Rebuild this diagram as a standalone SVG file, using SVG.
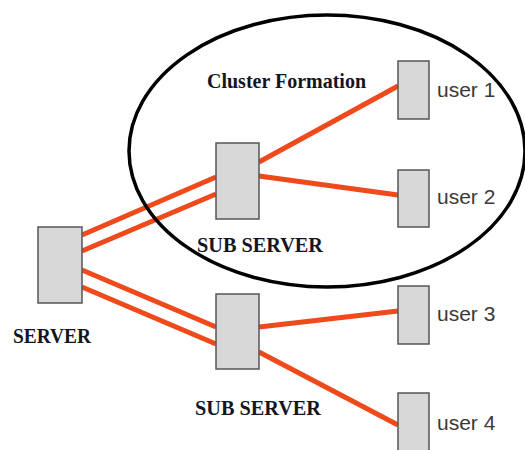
<svg xmlns="http://www.w3.org/2000/svg" width="525" height="450" viewBox="0 0 525 450">
<style>
.box{fill:#d8d8d8;stroke:#555;stroke-width:1.5}
.link{stroke:#ee4a1c;stroke-width:5;stroke-linecap:butt;fill:none}
.lbl{font-family:"Liberation Serif","Times New Roman",serif;font-weight:bold;font-size:21.5px;fill:#15151f}
.usr{font-family:"Liberation Sans",Arial,sans-serif;font-size:21px;fill:#3a3a3a}
</style>
<rect width="525" height="450" fill="#fff"/>
<g id="connectors">
<line class="link" x1="82" y1="235" x2="216" y2="177"/>
<line class="link" x1="82" y1="251" x2="216" y2="194"/>
<line class="link" x1="82" y1="270" x2="216" y2="327"/>
<line class="link" x1="82" y1="287" x2="216" y2="344"/>
<line class="link" x1="259" y1="162" x2="398" y2="86"/>
<line class="link" x1="259" y1="176" x2="398" y2="195"/>
<line class="link" x1="259" y1="327" x2="398" y2="311"/>
<line class="link" x1="259" y1="352" x2="398" y2="425"/>
</g>
<g id="cluster">
<ellipse cx="327" cy="151" rx="198" ry="136" fill="none" stroke="#000" stroke-width="3.5"/>
<text class="lbl" x="207" y="88" textLength="159" lengthAdjust="spacingAndGlyphs">Cluster Formation</text>
</g>
<g id="server">
<rect class="box" x="38" y="227" width="44" height="76"/>
<text class="lbl" x="13" y="343" textLength="78" lengthAdjust="spacingAndGlyphs">SERVER</text>
</g>
<g id="subserver1">
<rect class="box" x="216" y="143" width="43" height="76"/>
<text class="lbl" x="197" y="252" textLength="126" lengthAdjust="spacingAndGlyphs">SUB SERVER</text>
</g>
<g id="subserver2">
<rect class="box" x="216" y="294" width="43" height="75"/>
<text class="lbl" x="195" y="415" textLength="126" lengthAdjust="spacingAndGlyphs">SUB SERVER</text>
</g>
<g id="user1">
<rect class="box" x="398" y="61" width="31" height="58"/>
<text class="usr" x="437" y="97">user 1</text>
</g>
<g id="user2">
<rect class="box" x="398" y="170" width="31" height="57"/>
<text class="usr" x="437" y="204">user 2</text>
</g>
<g id="user3">
<rect class="box" x="398" y="286" width="31" height="58"/>
<text class="usr" x="437" y="321">user 3</text>
</g>
<g id="user4">
<rect class="box" x="398" y="393" width="31" height="60"/>
<text class="usr" x="437" y="430">user 4</text>
</g>
</svg>
